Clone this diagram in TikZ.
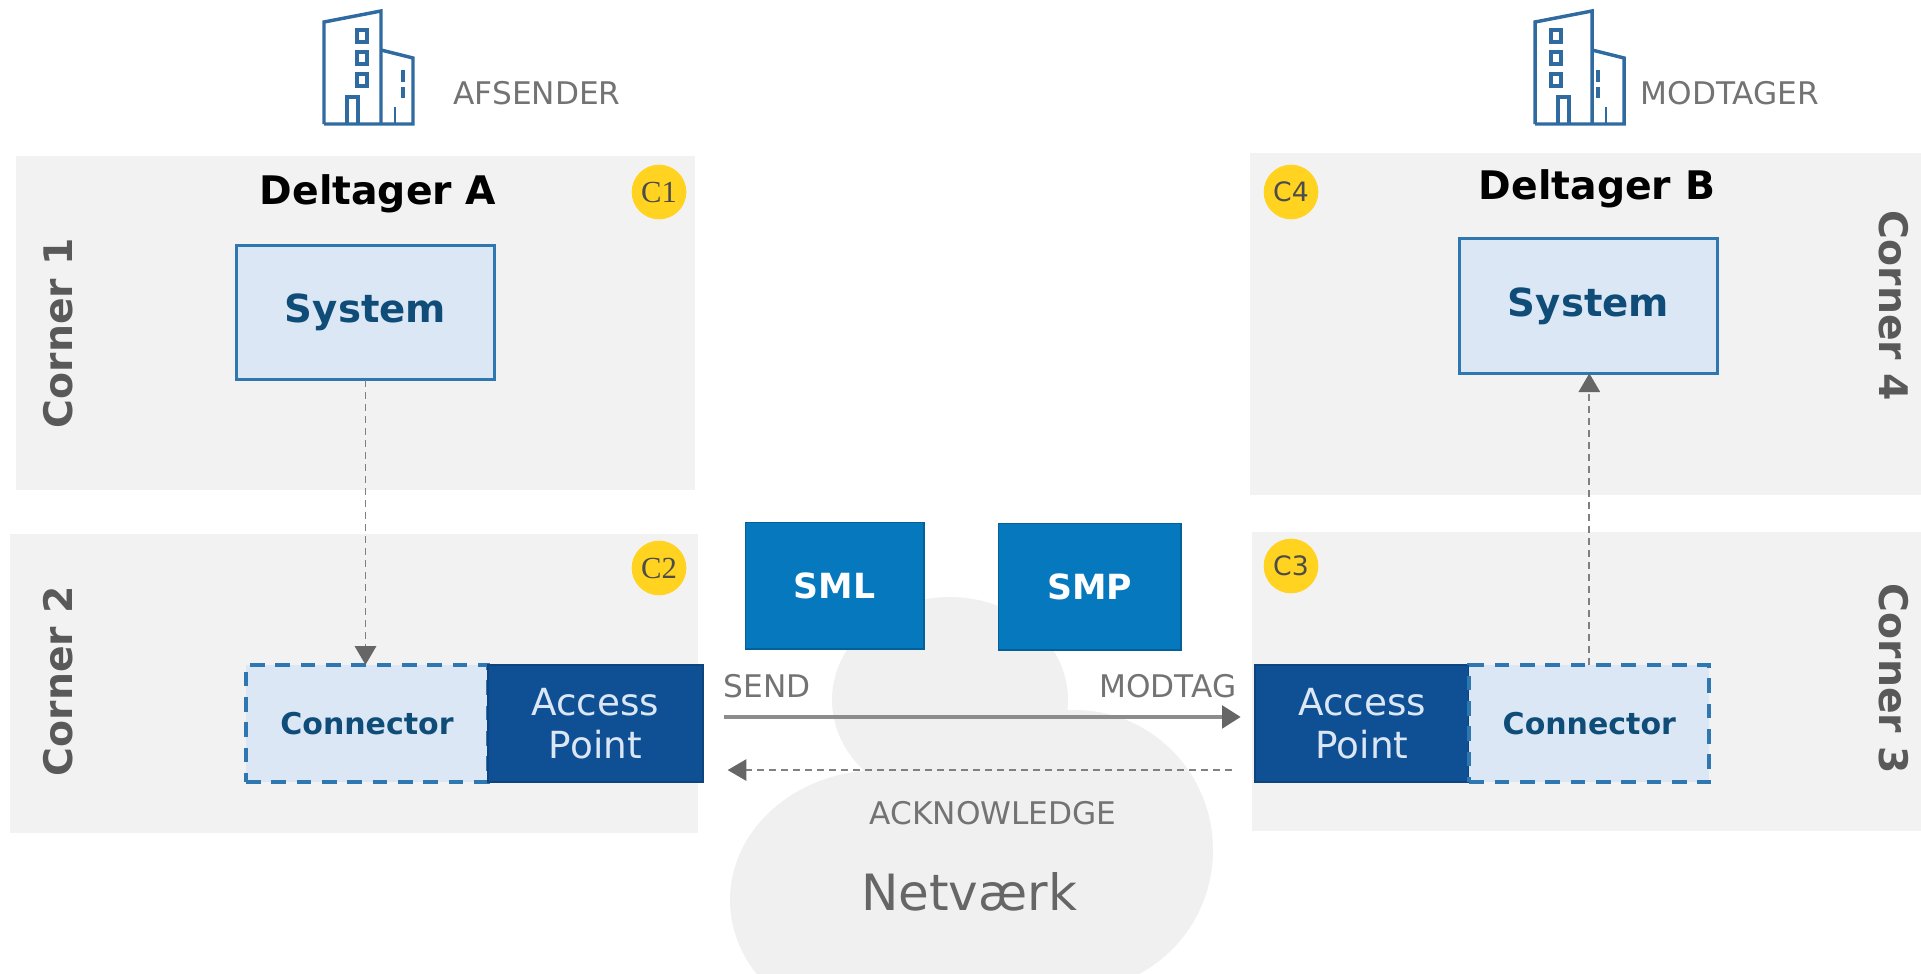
\documentclass[tikz,border=0pt]{standalone}
\usepackage{fontspec}
\setmainfont{DejaVu Sans}
\newfontfamily\badgeserif{Liberation Serif}
\usetikzlibrary{arrows.meta, positioning}

\definecolor{panelgray}{HTML}{F2F2F2}
\definecolor{cloudgray}{HTML}{F0F0F0}
\definecolor{paleblue}{HTML}{DBE7F5}
\definecolor{edgeblue}{HTML}{2F77B0}
\definecolor{inkblue}{HTML}{0F4D78}
\definecolor{servblue}{HTML}{0578BE}
\definecolor{apblue}{HTML}{0F4F94}
\definecolor{badgeyellow}{HTML}{FFD320}
\definecolor{towerblue}{HTML}{2F6AA0}

\tikzset{
    pics/building/.style 2 args={code={
        \draw[towerblue, line width=2.6pt] (0,114) -- (0,12) -- (57,1) -- (57,114);
        \draw[towerblue, line width=2.6pt] (57,40) -- (89,48) -- (89,114) -- (0,114);
        \foreach \winy in {20,42,64}
            \draw[towerblue, line width=2.4pt] (#1-5,\winy) rectangle ++(10,12);
        \draw[towerblue, line width=2.4pt] (23,114) -- (23,87) -- (34,87) -- (34,114);
        \draw[towerblue, line width=2.2pt] (71,97) -- (71,114);
        \draw[towerblue, line width=2.6pt, dash pattern=on 9pt off 4pt] (#2,60) -- (#2,88);
    }}
}

\begin{document}
\begin{tikzpicture}[
            x = 0.75pt,
            y = -0.75pt,
            every node/.style = {inner sep=0pt, outer sep=0pt, align=center}
        ]

        \tikzset{
            panel/.style = {fill=panelgray, minimum height=224.25pt},
            systembox/.style = {draw=edgeblue, line width=2.25pt, fill=paleblue, text=inkblue,
                font=\bfseries\fontsize{29}{34}\selectfont, minimum width=194pt, minimum height=101pt},
            servbox/.style = {draw=servblue!80!black, line width=1pt, fill=servblue, text=white,
                font=\bfseries\fontsize{26}{31}\selectfont, minimum height=95pt},
            connbox/.style = {draw=edgeblue, line width=3pt, dash pattern=on 11pt off 8pt, fill=paleblue,
                text=inkblue, font=\bfseries\fontsize{22.5}{27}\selectfont, minimum height=88pt},
            apbox/.style = {draw=apblue!85!black, line width=1.5pt, fill=apblue, text=paleblue,
                font=\fontsize{28}{32}\selectfont, minimum width=161pt, minimum height=88pt},
            badge/.style = {circle, fill=badgeyellow, text=black!70, minimum size=41pt,
                font=\fontsize{20}{24}\selectfont},
            owner/.style = {font=\bfseries\fontsize{29.5}{35}\selectfont, text=black},
            cornerlabel/.style = {font=\bfseries\fontsize{29.5}{35}\selectfont, text=black!65},
            flowlabel/.style = {font=\fontsize{23.4}{28}\selectfont, text=black!55},
            solidflow/.style = {draw=black!45, line width=2.6pt, -{Triangle[length=14pt,width=17pt,black!60]}},
            dashflow/.style = {draw=black!50, line width=1.3pt, dash pattern=on 5pt off 4pt,
                -{Triangle[length=14pt,width=16pt,black!60]}}
        }

        % cloud behind the middle
        \begin{scope}
            \clip (0,0) rectangle (1921,974);
            \fill[cloudgray] (950,700) ellipse [x radius=118, y radius=103];
            \fill[cloudgray] (1075,850) ellipse [x radius=138, y radius=140];
            \fill[cloudgray] (880,900) ellipse [x radius=150, y radius=130];
            \fill[cloudgray] (970,900) ellipse [x radius=120, y radius=100];
        \end{scope}
        \useasboundingbox (0,0) rectangle (1921,974);

        \node[panel, minimum width=509.25pt, minimum height=250.5pt] (corner1) at (355.5,323) {};
        \node[panel, minimum width=516pt] (corner2) at (354,683.5) {};
        \node[panel, minimum width=503.25pt, minimum height=256.5pt] (corner4) at (1585.5,324) {};
        \node[panel, minimum width=501.75pt] (corner3) at (1586.5,681.5) {};

        \pic (towerA) at (324,10) {building={38}{79}};
        \pic (towerB) at (1535,10) {building={21}{63}};

        \node[flowlabel] (afsender) at (537,93) {AFSENDER};
        \node[flowlabel] (modtager) at (1730,93) {MODTAGER};

        \node[owner] (deltagerA) at (378,194) {Deltager A};
        \node[owner] (deltagerB) at (1597,189) {Deltager B};

        \node[cornerlabel, rotate=90] (label1) at (58,333) {Corner 1};
        \node[cornerlabel, rotate=90] (label2) at (58,681) {Corner 2};
        \node[cornerlabel, rotate=-90] (label4) at (1894,306) {Corner 4};
        \node[cornerlabel, rotate=-90] (label3) at (1894,679) {Corner 3};

        \node[badge, font=\badgeserif\fontsize{23}{27}\selectfont] (c1) at (659,192) {C1};
        \node[badge, font=\badgeserif\fontsize{23}{27}\selectfont] (c2) at (659,568) {C2};
        \node[badge] (c3) at (1291,566) {C3};
        \node[badge] (c4) at (1291,192) {C4};

        \node[systembox] (systemA) at (365.5,312.5) {\raisebox{-2pt}{System}};
        \node[systembox] (systemB) at (1588.5,306) {\raisebox{-1pt}{System}};

        \node[servbox, minimum width=134pt] (sml) at (834.5,585.5) {SML};
        \node[servbox, minimum width=137pt] (smp) at (1089.5,586.5) {SMP};

        \node[connbox, minimum width=181.5pt] (connectorA) at (367,723.5) {Connector};
        \node[apbox] (accessA) [right=0pt of connectorA] {Access\\Point};
        \node[apbox] (accessB) at (1362,723.5) {Access\\Point};
        \node[connbox, minimum width=180pt] (connectorB) [right=0pt of accessB] {Connector};

        \node[flowlabel] (send) at (767,686) {SEND};
        \node[flowlabel] (modtag) at (1168,686) {MODTAG};
        \node[flowlabel] (ack) at (993,813) {ACKNOWLEDGE};
        \node[font=\fontsize{37.5}{45}\selectfont, text=black!60] (netvaerk) at (969,892) {Netværk};

        \draw[solidflow, shorten <=15.75pt, shorten >=10.5pt, transform canvas={yshift=4.9pt}] (accessA.east) -- (accessB.west);
        \draw[dashflow, shorten <=17pt, shorten >=18.75pt, transform canvas={yshift=-34.9pt}] (accessB.west) -- (accessA.east);
        \draw[dashflow] (systemA.south) -- (connectorA.north -| systemA.south);
        \draw[dashflow] (connectorB.north) -- (connectorB.north |- systemB.south);

    \end{tikzpicture}
\end{document}
